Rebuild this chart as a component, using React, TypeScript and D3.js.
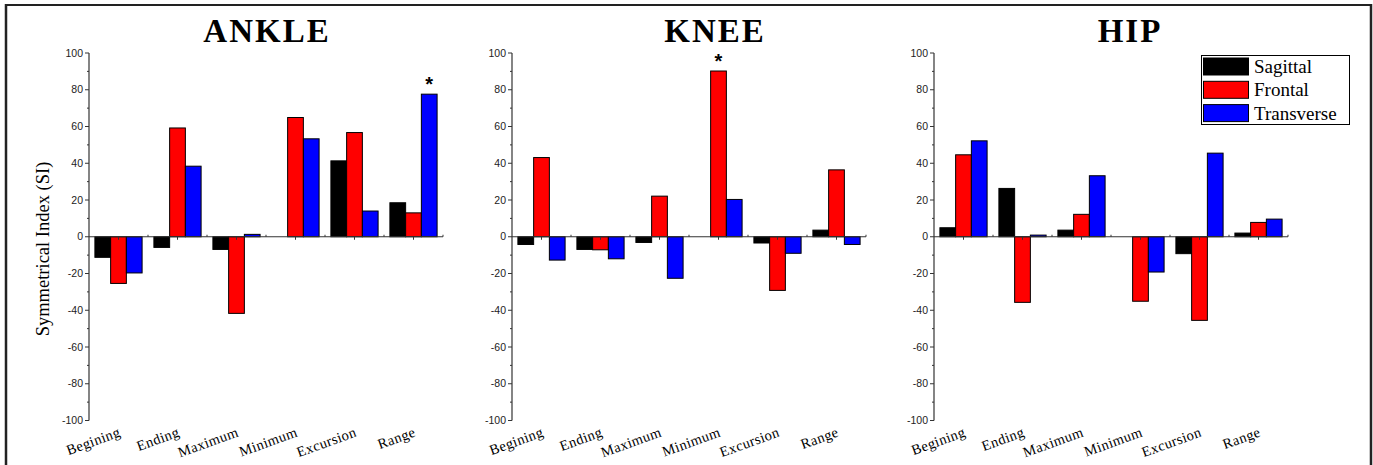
import React from "react";
import * as d3 from "d3";

const categories = ["Begining", "Ending", "Maximum", "Minimum", "Excursion", "Range"];
const seriesNames = ["Sagittal", "Frontal", "Transverse"];
const seriesColors = ["#000000", "#ff0000", "#0000ff"];
const yTicks = [100, 80, 60, 40, 20, 0, -20, -40, -60, -80, -100];

const ankleSagittal = [-11.2, -5.8, -6.9, 0, 41.3, 18.5];
const ankleFrontal = [-25.4, 59.2, -41.7, 64.9, 56.7, 13];
const ankleTransverse = [-19.7, 38.4, 1.3, 53.3, 14, 77.6];

const kneeSagittal = [-4.2, -6.9, -3.1, 0, -3.4, 3.6];
const kneeFrontal = [43.1, -7.1, 22.1, 90.2, -29.2, 36.4];
const kneeTransverse = [-12.7, -12, -22.6, 20.3, -9, -4.2];

const hipSagittal = [4.9, 26.3, 3.6, 0, -9.2, 2];
const hipFrontal = [44.6, -35.7, 12.2, -35.1, -45.5, 7.8];
const hipTransverse = [52.2, 0.9, 33.2, -19.2, 45.5, 9.6];

const panels = [
  { title: "ANKLE", x0: 89, titleX: 267, data: [ankleSagittal, ankleFrontal, ankleTransverse], star: { cat: "Range", s: 2 } },
  { title: "KNEE", x0: 512, titleX: 715, data: [kneeSagittal, kneeFrontal, kneeTransverse], star: { cat: "Minimum", s: 1 } },
  { title: "HIP", x0: 934, titleX: 1130, data: [hipSagittal, hipFrontal, hipTransverse], star: null },
];

const PW = 354;
const y = d3.scaleLinear().domain([-100, 100]).range([420.5, 53]);
const minorTicks = d3.range(-100, 101, 10);

function Panel({ p, showYTitle }: any) {
  const x = d3.scaleBand().domain(categories).range([p.x0, p.x0 + PW]).paddingInner(0.2).paddingOuter(0.1);
  const inner = d3.scaleBand().domain(["0", "1", "2"]).range([0, x.bandwidth()]);
  const axisColor = "#333";
  return (
    <g>
      <text x={p.titleX} y={42} textAnchor="middle" fontFamily="'Liberation Serif', 'Times New Roman', serif" fontWeight="bold" fontSize={33} letterSpacing={2} fill="#000">{p.title}</text>
      {p.data.map((vals: number[], si: number) =>
        vals.map((v, ci) => {
          if (v === 0) return null;
          const bx = (x(categories[ci]) as number) + (inner(String(si)) as number);
          const y0 = y(0), y1 = y(v);
          return (
            <rect key={si + "-" + ci} x={bx} y={Math.min(y0, y1)} width={inner.bandwidth()} height={Math.abs(y1 - y0)} fill={seriesColors[si]} stroke="#000" strokeWidth={1} />
          );
        })
      )}
      {/* y axis */}
      <line x1={p.x0} x2={p.x0} y1={y(100)} y2={y(-100)} stroke={axisColor} strokeWidth={1.2} />
      {minorTicks.map((t) => (
        <line key={"m" + t} x1={p.x0 - (t % 20 === 0 ? 4 : 2)} x2={p.x0} y1={y(t)} y2={y(t)} stroke={axisColor} strokeWidth={1} />
      ))}
      {yTicks.map((t) => (
        <text key={"t" + t} x={p.x0 - 6} y={y(t)} dy="0.35em" textAnchor="end" fontFamily="'Liberation Sans', Arial, sans-serif" fontSize={10.5} fill="#222">{t}</text>
      ))}
      {/* x axis at zero */}
      <line x1={p.x0} x2={p.x0 + PW} y1={y(0)} y2={y(0)} stroke={axisColor} strokeWidth={1.2} />
      {categories.map((c) => {
        const cx = (x(c) as number) + x.bandwidth() / 2;
        const bx = (x(c) as number) + x.bandwidth() + (x.step() - x.bandwidth()) / 2;
        return (
          <g key={"x" + c}>
            <line x1={cx} x2={cx} y1={y(0)} y2={y(0) + 3} stroke={axisColor} strokeWidth={1} />
            <line x1={bx} x2={bx} y1={y(0)} y2={y(0) - 2} stroke={axisColor} strokeWidth={1} />
            <text transform={`translate(${cx + 3},${436}) rotate(-20)`} textAnchor="end" fontFamily="'Liberation Serif', 'Times New Roman', serif" fontSize={14.5} letterSpacing={0.4} fill="#000">{c}</text>
          </g>
        );
      })}
      {p.star && (() => {
        const sx = (x(p.star.cat) as number) + (inner(String(p.star.s)) as number) + inner.bandwidth() / 2;
        const v = p.data[p.star.s][categories.indexOf(p.star.cat)];
        return <text x={sx} y={y(v) - 4} textAnchor="middle" fontFamily="'Liberation Sans', Arial, sans-serif" fontWeight="bold" fontSize={20} dy="0.55em" fill="#000" transform={`translate(0,-10)`}>*</text>;
      })()}
      {showYTitle && (
        <text transform={`translate(49,249) rotate(-90)`} textAnchor="middle" fontFamily="'Liberation Serif', 'Times New Roman', serif" fontSize={18.5} fill="#000">Symmetrical Index (SI)</text>
      )}
    </g>
  );
}

function Legend() {
  const lx = 1201, ly = 55;
  return (
    <g>
      <rect x={lx + 0.5} y={ly + 0.5} width={148} height={69} fill="#fff" stroke="#000" strokeWidth={1} />
      {seriesNames.map((s, i) => (
        <g key={s}>
          <rect x={lx + 2.5} y={ly + 3 + i * 23.3} width={45} height={17} fill={seriesColors[i]} stroke="#000" strokeWidth={1} />
          <text x={lx + 53} y={ly + 11.5 + i * 23.3} dy="0.35em" fontFamily="'Liberation Serif', 'Times New Roman', serif" fontSize={19} fill="#000">{s}</text>
        </g>
      ))}
    </g>
  );
}

export default function App() {
  return (
    <svg width={1373} height={465} style={{ position: "absolute", left: 0, top: 0, background: "#fff" }}>
      <rect x={0} y={0} width={1373} height={465} fill="#fff" />
      <line x1={5} x2={1372} y1={5} y2={5} stroke="#222" strokeWidth={2} />
      <line x1={6} x2={6} y1={4} y2={465} stroke="#222" strokeWidth={2.5} />
      <line x1={1371} x2={1371} y1={4} y2={465} stroke="#222" strokeWidth={2.5} />
      {panels.map((p, i) => (
        <Panel key={p.title} p={p} showYTitle={i === 0} />
      ))}
      <Legend />
    </svg>
  );
}
